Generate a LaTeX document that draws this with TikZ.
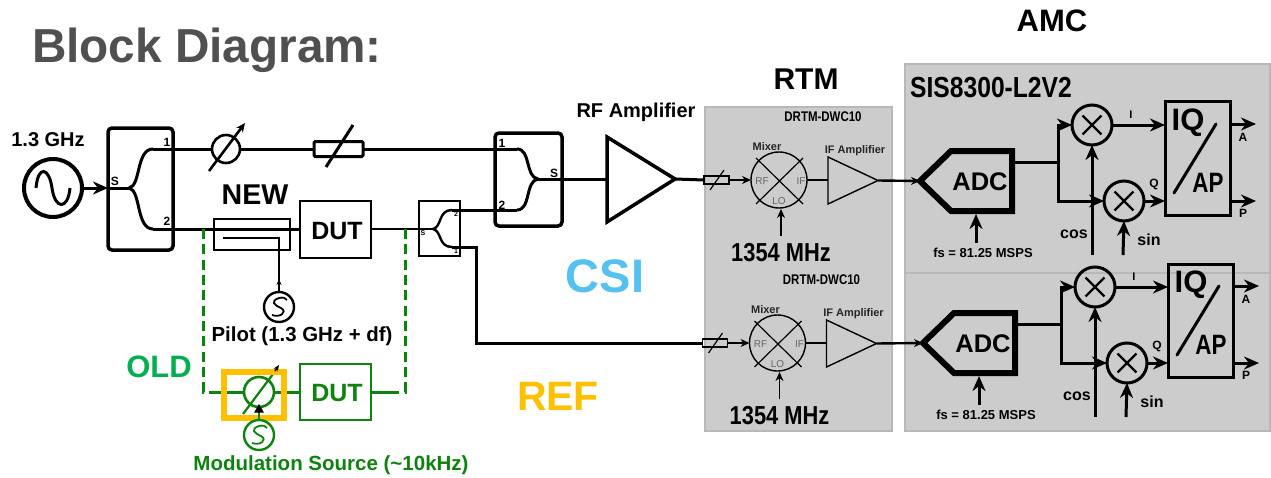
\documentclass[tikz,border=0pt]{standalone}
\usepackage{fontspec}
\setmainfont{Liberation Sans}
\usetikzlibrary{arrows.meta,fit}
\definecolor{panel}{HTML}{CCCCCC}
\definecolor{panelline}{HTML}{B8B8B8}
\definecolor{dgreen}{HTML}{0E820E}
\definecolor{oldgreen}{HTML}{00B050}
\definecolor{csiblue}{HTML}{55C1F0}
\definecolor{refyellow}{HTML}{FFC000}
\definecolor{titlegray}{HTML}{505050}
\definecolor{portgray}{HTML}{666666}
\newcommand\fpx[1]{\pgfmathsetmacro\tmpf{#1*0.75}\fontsize{\tmpf pt}{\tmpf pt}\selectfont}
\newcommand\nar[2]{\scalebox{#1}[1]{#2}}
\tikzset{
  px/.style={line width=#1*0.75pt},
  txt/.style={font=\bfseries\fpx{#1},inner sep=0pt,text=black},
  plain/.style={font=\fpx{#1},inner sep=0pt,text=portgray},
  boxn/.style={draw,inner sep=0pt,outer sep=0pt,px=#1},
  cir/.style={circle,draw,inner sep=0pt,outer sep=0pt,minimum size=#1*1.5pt},
  panelbox/.style={draw=panelline,fill=panel,inner sep=0pt,outer sep=0pt,px=2},
  arrB/.style={-{Stealth[length=15*0.75pt,width=13*0.75pt]}},
  arrM/.style={-{Stealth[length=9*0.75pt,width=8*0.75pt]}},
  arrS/.style={-{Stealth[length=6*0.75pt,width=5*0.75pt]}},
}
% one ADC / IQ chain of the AMC, in the coordinates of the upper one
\newcommand\amcblock{%
  \coordinate (adctip) at (920,181);
  \coordinate (adcout) at (1012,162);
  \draw[px=6,miter limit=10] (951,151) -- (1012,151) -- (1012,211) -- (951,211) -- (adctip) -- cycle;
  \node[txt=25.5] (adc) at (980,182) {ADC};
  \node[cir=20,px=3] (m1) at (1092,125) {};
  \node[cir=20,px=3] (m2) at (1124,201) {};
  \foreach \m in {m1,m2}{
    \draw[px=2.4,shorten <=5pt,shorten >=5pt] (\m.45) -- (\m.225);
    \draw[px=2.4,shorten <=5pt,shorten >=5pt] (\m.135) -- (\m.315);
  }
  \node[boxn=3] (iq) [fit={(1165,102)(1230,215)}] {};
  \coordinate (br) at (1058,162);
  \draw[px=3] (adcout) -- (br);
  \draw[px=3,arrB] (br) |- (m1.west);
  \draw[px=3,arrB] (br) |- (m2.west);
  \coordinate (cosin) at (1092,255);
  \coordinate (sinin) at (1123,255);
  \coordinate (fsin) at (976,243);
  \draw[px=3,arrB] (cosin) -- (m1.south);
  \draw[px=3,arrB] (sinin) -- (m2.south);
  \draw[px=3,arrB] (fsin) -- (976,214);
  \draw[px=3,arrB] (m1.east) -- (iq.west |- m1.east);
  \draw[px=3,arrB] (m2.east) -- (iq.west |- m2.east);
  \coordinate (aout) at (1256,124);
  \coordinate (pout) at (1256,201);
  \draw[px=3,arrB] (iq.east |- aout) -- (aout);
  \draw[px=3,arrB] (iq.east |- pout) -- (pout);
  \draw[px=3,line cap=round] (1174,193) -- (1216,124);
  \node[txt=31] (iqt) at (1188,123) {IQ};
  \node[txt=28] (apt) at (1208,183) {\nar{.8}{AP}};
  \node[txt=11] (it) at (1131,115) {I};
  \node[txt=12] (qt) at (1154,184) {Q};
  \node[txt=12] (at) at (1243,137) {A};
  \node[txt=12] (pt) at (1243,213) {P};
  \node[txt=16] (cost) at (1074,234) {cos};
  \node[txt=16] (sint) at (1149,240) {sin};
  \node[txt=13] (fst) at (983,253) {fs = 81.25 MSPS};
}
% one downconverter of the RTM, in the coordinates of the upper one
\newcommand\rtmblock{%
  \node[txt=14] (dw) at (823,117) {\nar{.82}{DRTM-DWC10}};
  \node[boxn=1.6] (att) [fit={(704,176)(729,184)}] {};
  \draw[px=1.2] (710,190) -- (724,170);
  \node[cir=28,px=1.4] (mx) at (779,180) {};
  \draw[px=1.2] (756,158) -- (803,204) (803,158) -- (756,204);
  \draw[px=1.4,arrM] (att.east) -- (mx.west);
  \coordinate (t1) at (828,157);
  \coordinate (t2) at (828,204);
  \coordinate (ifout) at (878,180.5);
  \draw[px=1.4,line join=miter] (t1) -- (ifout) -- (t2) -- cycle;
  \draw[px=1.4] (mx.east) -- (828,180);
  \coordinate (lo) at (781,236);
  \draw[px=1.6,arrM] (lo) -- (781,209);
  \node[plain=10] (rf) at (762,181) {RF};
  \node[plain=10] (if) at (801,181) {IF};
  \node[plain=10] (lot) at (779,201) {LO};
  \node[txt=11] (mxt) at (767,147) {\textcolor{black!85}{Mixer}};
  \node[txt=11] (ift) at (855,151) {\textcolor{black!85}{IF Amplifier}};
  \node[txt=26] (lof) at (781,253) {\nar{.84}{1354 MHz}};
}
\begin{document}
\begin{tikzpicture}[x=0.75pt,y=-0.75pt]
\useasboundingbox (0,0) rectangle (1271,478);
% panels
\node[panelbox,fit={(705,107)(892,431)}] (rtm) {};
\node[panelbox,fit={(905,64)(1270,431)}] (amc) {};
\coordinate (divL) at (906,273);
\coordinate (divR) at (1271,273);
\draw[px=1.5,panelline] (divL) -- (divR);
% headings
\node[font=\bfseries\fpx{47.7},inner sep=0pt,text=titlegray] (title) at (207,50) {Block Diagram:};
\node[txt=30] (rtmt) at (806,79) {RTM};
\node[txt=31] (amct) at (1052,21) {AMC};
\node[txt=29] (sis) at (991,88) {\nar{.85}{SIS8300-L2V2}};
\node[txt=20] (rfa) at (636,112) {RF Amplifier};
\node[txt=20] (f13) at (48,140) {1.3 GHz};
\node[txt=28.6] (new) at (255,195) {NEW};
\node[font=\bfseries\fpx{47},inner sep=0pt,text=csiblue] (csi) at (605,276) {CSI};
\node[font=\bfseries\fpx{41},inner sep=0pt,text=refyellow] (ref) at (558,396) {REF};
\node[font=\bfseries\fpx{31},inner sep=0pt,text=oldgreen] (old) at (159,367) {OLD};
% source and first splitter
\node[cir=29,px=4] (src) at (53,188) {};
\draw[px=3] (36,188) .. controls (38,165) and (49,167) .. (52,188) .. controls (55,210) and (68,210) .. (70,188);
\node[boxn=3.5,rounded corners=3pt] (spA) [fit={(108,128)(173,250)}] {};
\coordinate (spAj) at (129,188);
\coordinate (spAt) at (153,149);
\coordinate (spAb) at (153,229);
\draw[px=3,arrB] (src.east) -- (spA.west |- src.east);
\draw[px=3] (spA.west |- spAj) -- (spAj);
\draw[px=3] (spAj) .. controls (141,186) and (136,149) .. (spAt);
\draw[px=3] (spAj) .. controls (141,190) and (136,229) .. (spAb);
\node[txt=12] (sA) at (115,181) {S};
\node[txt=12] (sA1) at (167,142) {1};
\node[txt=12] (sA2) at (167,221) {2};
% upper branch
\node[cir=14,px=2.6] (ps) at (226,149) {};
\node[boxn=3,rounded corners=1pt] (att) [fit={(314,141.5)(363,156.5)}] {};
\draw[px=3] (spAt) -- (ps.west);
\draw[px=3] (ps.east) -- (att.west);
\draw[px=2.6,arrM] (209,171) -- (245,123);
\draw[px=3] (326,167) -- (353,125);
% combiner
\node[boxn=3.5,rounded corners=3pt] (spB) [fit={(495,133)(562,226)}] {};
\coordinate (spBj) at (538,179);
\coordinate (spBt) at (517,149);
\coordinate (spBb) at (517,210);
\draw[px=3] (att.east) -- (spBt);
\draw[px=3] (spBt) .. controls (531,149) and (525,177) .. (spBj);
\draw[px=3] (spBb) .. controls (531,210) and (525,181) .. (spBj);
\node[txt=12] (sB) at (554,173) {S};
\node[txt=12] (sB1) at (502,143) {1};
\node[txt=12] (sB2) at (502,205) {2};
% RF amplifier
\coordinate (ampA) at (607,137);
\coordinate (ampB) at (607,222);
\coordinate (ampO) at (675,179);
\draw[px=3.5,line join=miter] (ampA) -- (ampO) -- (ampB) -- cycle;
\draw[px=3] (spBj) -- (ampA |- spBj);
% coupler, DUT, small splitter
\node[boxn=2,fit={(214,219)(290,250)}] (cpl) {};
\node[boxn=2.2,fit={(300,201)(371,258)}] (dut) {};
\node[txt=25] (dutt) at (337,231) {DUT};
\draw[px=3] (spAb) -- (dut.west |- spAb);
\node[boxn=2.2,fit={(419,201)(460,256)}] (spC) {};
\coordinate (spCj) at (433,229);
\coordinate (spCt) at (452,210);
\coordinate (spCb) at (452,247);
\draw[px=2.4] (dut.east |- spAb) -- (spCj);
\draw[px=2.4] (spCj) .. controls (442,227) and (438,210) .. (spCt);
\draw[px=2.4] (spCj) .. controls (442,231) and (438,247) .. (spCb);
\draw[px=3] (spCt) -- (spBb);
\node[txt=7] (sC) at (423,233) {S};
\node[txt=7] (sC1) at (456,214) {2};
\node[txt=7] (sC2) at (456,251) {1};
% pilot
\node[cir=15,px=2.4] (pil) at (279,307) {};
\draw[px=1.8] (272,315) .. controls (280,318) and (288,312) .. (281,308) .. controls (274,305) and (270,301) .. (279,298) .. controls (283,297) and (286,298) .. (287,300);
\coordinate (cplin) at (223,238);
\draw[px=2.8] (cplin) -- (279,238) -- (279,283);
\draw[px=1.4,arrS] (pil.north) -- (279,279);
\node[txt=20.4] (pilt) at (302,336) {Pilot (1.3 GHz + df)};
% old set-up
\coordinate (tapL) at (203,229);
\coordinate (tapR) at (405,229);
\coordinate (oldL) at (209,392);
\coordinate (oldR) at (398,392);
\draw[px=3,dgreen,dash pattern=on 7.5pt off 4pt] (tapL) -- (203,392) -- (oldL);
\draw[px=3,dgreen,dash pattern=on 7.5pt off 4pt] (tapR) -- (405,392) -- (oldR);
\node[cir=15,px=2.6,draw=dgreen] (psG) at (259,392) {};
\node[boxn=2.6,draw=dgreen,fit={(300,364)(371,420)}] (dutG) {};
\node[font=\bfseries\fpx{25},inner sep=0pt,text=dgreen] (dutGt) at (337,393) {DUT};
\draw[px=3,dgreen] (oldL) -- (psG.west);
\draw[px=3,dgreen] (psG.east) -- (dutG.west |- psG.east);
\draw[px=3,dgreen] (dutG.east |- psG.east) -- (oldR);
\draw[px=2.2,dgreen] (243,414) -- (273,374);
\node[draw=refyellow,px=5.5,inner sep=0pt,outer sep=0pt,fit={(224,372)(284,418)}] (ybox) {};
\draw[px=1.6,black,arrS] (275,371) -- (279,365);
\node[cir=15,px=2.4,draw=dgreen] (mod) at (259,435) {};
\draw[px=1.8,dgreen] (252,443) .. controls (260,446) and (268,440) .. (261,436) .. controls (254,433) and (250,429) .. (259,426) .. controls (263,425) and (266,426) .. (267,428);
\draw[px=2.4,dgreen] (mod.north) -- (259,412);
\draw[px=1,black,fill=black] (255,412) -- (259,405) -- (263,412) -- cycle;
\node[font=\bfseries\fpx{20.5},inner sep=0pt,text=dgreen] (modt) at (331,465) {Modulation Source (\textasciitilde10kHz)};
% RTM
\begin{scope}[name prefix=up-]
\rtmblock
\end{scope}
\begin{scope}[name prefix=lo-,shift={(-1.5,163)}]
\rtmblock
\end{scope}
\draw[px=3] (ampO) -- (up-att.west);
\coordinate (refbend) at (476,343);
\draw[px=3] (spCb) -| (refbend) -- (lo-att.west);
% AMC
\begin{scope}[name prefix=up-]
\amcblock
\end{scope}
\begin{scope}[name prefix=lo-,shift={(3,162)}]
\amcblock
\end{scope}
\draw[px=2.4,arrM] (up-ifout) -- (up-adctip);
\draw[px=2.4,arrM] (lo-ifout) -- (lo-adctip);
\end{tikzpicture}
\end{document}
